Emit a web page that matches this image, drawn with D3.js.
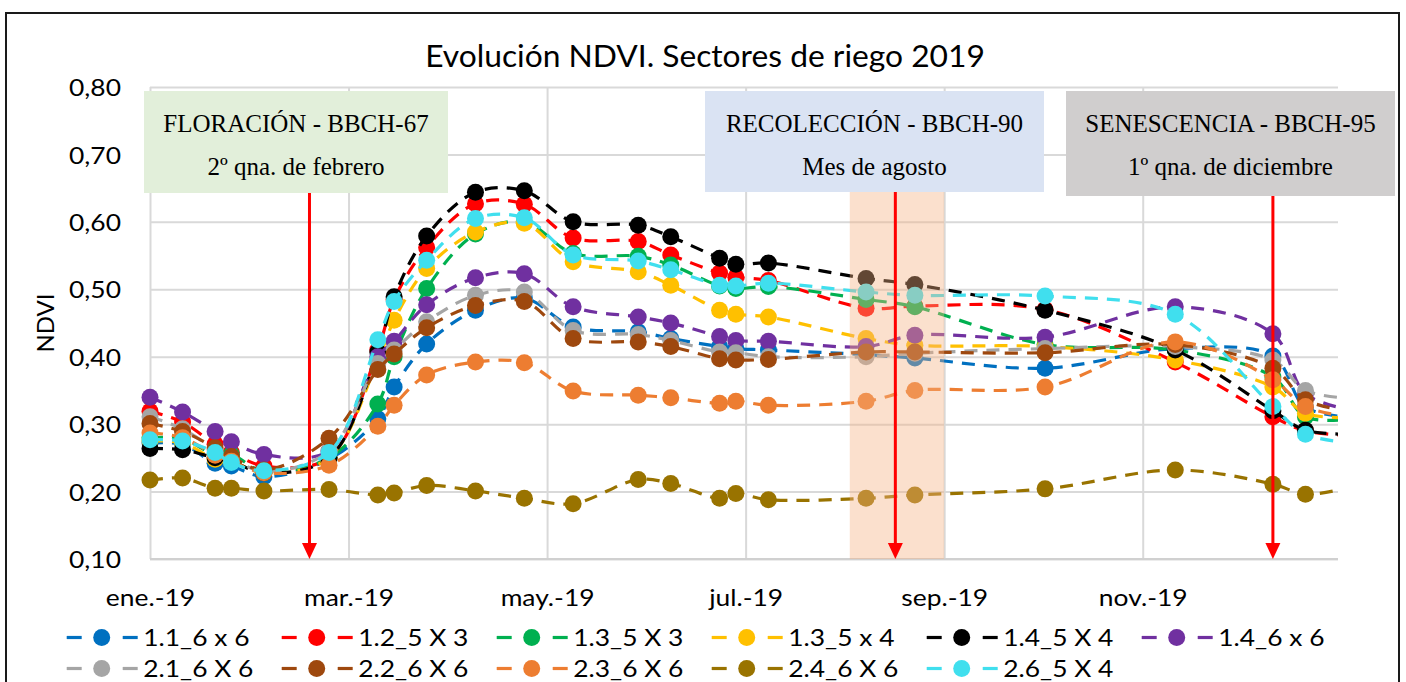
<!DOCTYPE html>
<html><head><meta charset="utf-8">
<script src="https://cdn.jsdelivr.net/npm/d3@7"></script>
<style>body{margin:0;background:#fff}svg{display:block}</style>
</head><body><svg id="c" width="1406" height="682"></svg>
<script>
// ---------------- DATA ----------------
const dates = ["2019-01-01","2019-01-11","2019-01-21","2019-01-26","2019-02-05","2019-02-25",
  "2019-03-12","2019-03-17","2019-03-27","2019-04-11","2019-04-26","2019-05-11",
  "2019-05-31","2019-06-10","2019-06-25","2019-06-30","2019-07-10","2019-08-09",
  "2019-08-24","2019-10-03","2019-11-12","2019-12-12","2019-12-22","2020-01-06"];

const seriesNames = ["1.1_6 x 6","1.2_5 X 3","1.3_5 X 3","1.3_5 x 4","1.4_5 X 4","1.4_6 x 6",
  "2.1_6 X 6","2.2_6 X 6","2.3_6 X 6","2.4_6 X 6","2.6_5 X 4"];
const seriesColors = ["#0070C0","#FF0000","#00B050","#FFC000","#000000","#7030A0",
  "#A5A5A5","#9E480E","#ED7D31","#997300","#40DFEE"];

const s_1_1 = [0.272,0.270,0.242,0.238,0.222,0.248,0.308,0.355,0.419,0.469,0.487,0.444,0.437,0.427,0.415,0.412,0.410,0.403,0.398,0.383,0.412,0.401,0.325,0.310];
const s_1_2 = [0.319,0.303,0.270,0.258,0.238,0.250,0.410,0.485,0.562,0.627,0.626,0.576,0.571,0.551,0.524,0.518,0.513,0.472,0.475,0.470,0.392,0.311,0.290,0.283];
const s_1_3a = [0.280,0.278,0.255,0.255,0.230,0.250,0.330,0.400,0.501,0.582,0.600,0.553,0.549,0.536,0.505,0.501,0.504,0.485,0.474,0.418,0.410,0.370,0.311,0.308];
const s_1_3b = [0.275,0.272,0.248,0.245,0.228,0.250,0.395,0.454,0.531,0.585,0.598,0.541,0.526,0.506,0.469,0.463,0.459,0.427,0.417,0.415,0.395,0.355,0.316,0.310];
const s_1_4a = [0.264,0.262,0.250,0.245,0.228,0.250,0.407,0.489,0.579,0.644,0.646,0.600,0.595,0.578,0.546,0.537,0.539,0.516,0.507,0.469,0.410,0.320,0.291,0.285];
const s_1_4b = [0.340,0.318,0.289,0.274,0.255,0.260,0.400,0.423,0.477,0.517,0.523,0.474,0.459,0.450,0.430,0.424,0.423,0.415,0.432,0.429,0.474,0.434,0.345,0.320];
const s_2_1 = [0.311,0.293,0.262,0.250,0.230,0.260,0.390,0.410,0.452,0.491,0.496,0.439,0.433,0.424,0.407,0.406,0.400,0.400,0.405,0.412,0.415,0.395,0.350,0.338];
const s_2_2 = [0.301,0.289,0.265,0.252,0.232,0.279,0.381,0.404,0.443,0.476,0.482,0.427,0.422,0.415,0.397,0.395,0.396,0.407,0.407,0.406,0.418,0.383,0.336,0.318];
const s_2_3 = [0.287,0.280,0.254,0.245,0.228,0.239,0.297,0.328,0.373,0.392,0.391,0.349,0.343,0.339,0.331,0.334,0.328,0.334,0.350,0.355,0.422,0.366,0.326,0.310];
const s_2_4 = [0.217,0.220,0.205,0.205,0.201,0.203,0.195,0.198,0.209,0.201,0.190,0.182,0.218,0.212,0.190,0.197,0.188,0.190,0.195,0.204,0.232,0.211,0.196,0.208];
const s_2_6 = [0.277,0.275,0.258,0.243,0.231,0.258,0.425,0.482,0.543,0.605,0.606,0.551,0.542,0.529,0.506,0.505,0.509,0.496,0.491,0.490,0.463,0.326,0.285,0.272];
const seriesValues = [s_1_1,s_1_2,s_1_3a,s_1_3b,s_1_4a,s_1_4b,s_2_1,s_2_2,s_2_3,s_2_4,s_2_6];

const yTicks = [0.10,0.20,0.30,0.40,0.50,0.60,0.70,0.80];
const yTickLabels = ["0,10","0,20","0,30","0,40","0,50","0,60","0,70","0,80"];
const xTickDates = ["2019-01-01","2019-03-03","2019-05-03","2019-07-03","2019-09-02","2019-11-02"];
const xTickLabels = ["ene.-19","mar.-19","may.-19","jul.-19","sep.-19","nov.-19"];

const titleText = "Evolución NDVI. Sectores de riego 2019";
const yTitle = "NDVI";

const phaseLine1 = ["FLORACIÓN - BBCH-67","RECOLECCIÓN - BBCH-90","SENESCENCIA - BBCH-95"];
const phaseLine2 = ["2º qna. de febrero","Mes de agosto","1º qna. de diciembre"];
const phaseArrowDates = ["2019-02-19","2019-08-18","2019-12-12"];
const phaseFills = ["#E2EFDA","#DAE3F3","#D0CECE"];
const harvestBand = ["2019-08-04","2019-09-02"];

// ---------------- LAYOUT ----------------
const W = 1406, H = 682;
const plot = {left:150, right:1338, top:87, bottom:559};
const boxLayout = [
  {x:144, y:91, w:304, h:102},
  {x:705, y:91, w:339, h:101},
  {x:1066, y:91, w:329, h:105}
];
const SANS = "Lato, 'Open Sans', sans-serif";
const SERIF = "'Liberation Serif', 'DejaVu Serif', serif";
const WIDEN = 1.1; // reference glyphs are slightly wider than Lato

function widen(sel){
  sel.each(function(){
    const w = this.getComputedTextLength();
    d3.select(this).attr("textLength", w*WIDEN).attr("lengthAdjust","spacingAndGlyphs");
  });
}

const parse = d3.utcParse("%Y-%m-%d");
const x = d3.scaleUtc().domain([parse("2019-01-01"), parse("2020-01-01")]).range([plot.left, plot.right]);
const y = d3.scaleLinear().domain([0.1, 0.8]).range([plot.bottom, plot.top]);

const svg = d3.select("#c");
svg.append("rect").attr("width",W).attr("height",H).attr("fill","#fff");

// outer border
svg.append("rect").attr("x",6).attr("y",13).attr("width",1393).attr("height",720)
  .attr("fill","none").attr("stroke","#1a1a1a").attr("stroke-width",2);

// title
const title = svg.append("text").attr("x",705).attr("y",67).attr("text-anchor","middle")
  .attr("font-family",SANS).attr("font-size",28).attr("fill","#000").text(titleText);
{
  const w = title.node().getComputedTextLength();
  const fs = Math.max(25, Math.min(32, 28*560/w));
  title.attr("font-size", fs);
}

// y axis with gridlines
const yAxis = d3.axisLeft(y).tickValues(yTicks).tickFormat((d,i)=>yTickLabels[i])
  .tickSize(-(plot.right-plot.left)).tickPadding(29);
const gy = svg.append("g").attr("transform",`translate(${plot.left},0)`).call(yAxis);
gy.select(".domain").remove();
gy.selectAll(".tick line").attr("stroke","#D9D9D9").attr("stroke-width",2);
gy.selectAll(".tick text").attr("font-family",SANS).attr("font-size",24).attr("fill","#000")
  .attr("dy","0.36em").call(widen);

// x axis with gridlines
const xAxis = d3.axisBottom(x).tickValues(xTickDates.map(parse)).tickFormat((d,i)=>xTickLabels[i])
  .tickSize(-(plot.bottom-plot.top)).tickPadding(30);
const gx = svg.append("g").attr("transform",`translate(0,${plot.bottom})`).call(xAxis);
gx.select(".domain").remove();
gx.selectAll(".tick line").attr("stroke","#D9D9D9").attr("stroke-width",2);
gx.selectAll(".tick text").attr("font-family",SANS).attr("font-size",24).attr("fill","#000")
  .attr("y",47).attr("dy",0).call(widen);
// bottom axis line
svg.append("line").attr("x1",plot.left).attr("x2",plot.right).attr("y1",y(0.1)).attr("y2",y(0.1))
  .attr("stroke","#D0D0D0").attr("stroke-width",2);

// y title
svg.append("text").attr("transform","translate(45,323) rotate(-90)").attr("text-anchor","middle")
  .attr("dy","0.36em").attr("font-family",SANS).attr("font-size",24).attr("fill","#000").text(yTitle);

// clip
svg.append("clipPath").attr("id","clip").append("rect")
  .attr("x",plot.left).attr("y",plot.top-20).attr("width",plot.right-plot.left).attr("height",plot.bottom-plot.top+40);

const line = d3.line().x(d=>x(d.date)).y(d=>y(d.v)).curve(d3.curveCatmullRom.alpha(0.5));
const dateObjs = dates.map(parse);

const gSeries = svg.append("g");
seriesValues.forEach((vals,i)=>{
  const pts = vals.map((v,j)=>({date:dateObjs[j], v}));
  gSeries.append("path").datum(pts).attr("d",line).attr("fill","none")
    .attr("stroke",seriesColors[i]).attr("stroke-width",3.2).attr("stroke-dasharray","13,9")
    .attr("clip-path","url(#clip)");
  gSeries.selectAll(null).data(pts.filter(p=>p.date<=x.domain()[1])).enter().append("circle")
    .attr("cx",d=>x(d.date)).attr("cy",d=>y(d.v)).attr("r",8.5).attr("fill",seriesColors[i]);
});

// harvest band
const bandTop = boxLayout[1].y + boxLayout[1].h;
svg.append("rect").attr("x",x(parse(harvestBand[0]))).attr("y",bandTop)
  .attr("width",x(parse(harvestBand[1]))-x(parse(harvestBand[0])))
  .attr("height",y(0.1)-bandTop).attr("fill","#F4B183").attr("fill-opacity",0.4);

// phase boxes and arrows
boxLayout.forEach((b,i)=>{
  const ax = x(parse(phaseArrowDates[i]));
  const tip = y(0.1);
  svg.append("line").attr("x1",ax).attr("x2",ax).attr("y1",b.y+b.h).attr("y2",tip-12)
    .attr("stroke","#FF0000").attr("stroke-width",3);
  svg.append("path").attr("d",`M${ax-7.5},${tip-16}L${ax+7.5},${tip-16}L${ax},${tip}Z`).attr("fill","#FF0000");
  svg.append("rect").attr("x",b.x).attr("y",b.y).attr("width",b.w).attr("height",b.h).attr("fill",phaseFills[i]);
  const cx = b.x + b.w/2;
  svg.append("text").attr("x",cx).attr("y",131.5).attr("text-anchor","middle")
    .attr("font-family",SERIF).attr("font-size",25).attr("fill","#000").text(phaseLine1[i]);
  svg.append("text").attr("x",cx).attr("y",175).attr("text-anchor","middle")
    .attr("font-family",SERIF).attr("font-size",25).attr("fill","#000").text(phaseLine2[i]);
});

// legend
const legend = svg.append("g");
seriesNames.forEach((name,i)=>{
  const row = Math.floor(i/6), col = i%6;
  const mx = 101.7 + 215*col, my = row===0 ? 637.5 : 668.5;
  const g = legend.append("g");
  g.append("line").attr("x1",mx-35).attr("x2",mx-20).attr("y1",my).attr("y2",my)
    .attr("stroke",seriesColors[i]).attr("stroke-width",3.2);
  g.append("line").attr("x1",mx+21).attr("x2",mx+36).attr("y1",my).attr("y2",my)
    .attr("stroke",seriesColors[i]).attr("stroke-width",3.2);
  g.append("circle").attr("cx",mx).attr("cy",my).attr("r",8.5).attr("fill",seriesColors[i]);
  g.append("text").attr("x",mx+41.5).attr("y",my+8.7).attr("font-family",SANS).attr("font-size",24)
    .attr("fill","#000").text(name).call(widen);
});
</script></body></html>
